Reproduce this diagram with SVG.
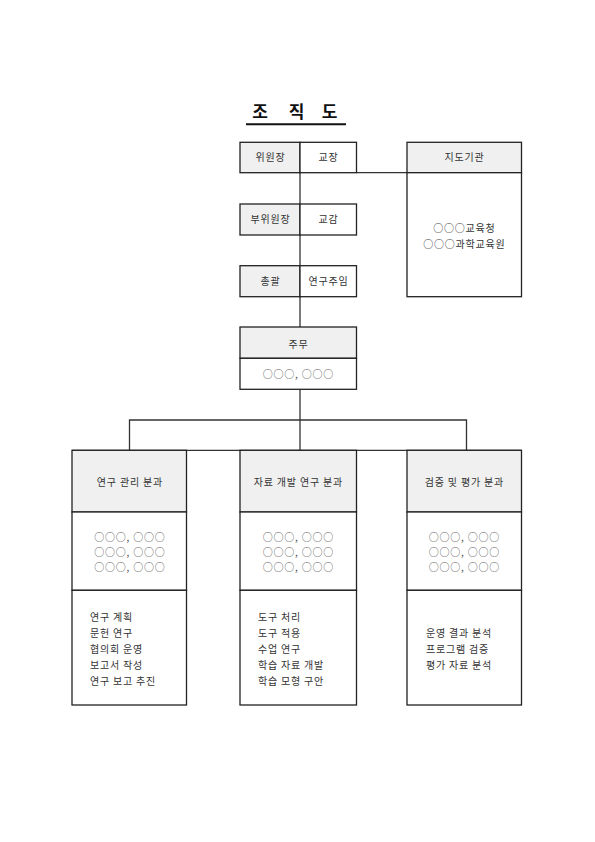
<svg xmlns="http://www.w3.org/2000/svg" width="595" height="842" viewBox="0 0 595 842">
<style>
.t{font-family:"Noto Sans CJK KR","Noto Sans",sans-serif;font-size:10px;fill:#333;letter-spacing:0.8px;}
.c{text-anchor:middle;}
.o{fill:#555;}
.title{font-family:"Noto Sans CJK KR","Noto Sans",sans-serif;font-size:17px;font-weight:bold;fill:#111;text-anchor:middle;}
.g{fill:#f0f0f0;stroke:#222;stroke-width:1.3;}
.w{fill:#fff;stroke:#222;stroke-width:1.3;}
.ln{fill:none;stroke:#333;stroke-width:1.3;}
</style>
<rect width="595" height="842" fill="#fff"/>
<g id="title">
<text class="title" x="260" y="118">조</text>
<text class="title" x="296.5" y="118">직</text>
<text class="title" x="329.5" y="118">도</text>
<line x1="246" y1="124.3" x2="346" y2="124.3" stroke="#111" stroke-width="2"/>
</g>
<g id="connectors">
<line class="ln" x1="300" y1="173" x2="300" y2="450"/>
<line class="ln" x1="356.5" y1="172.7" x2="407" y2="172.7"/>
<polyline class="ln" points="129.5,450 129.5,420 466.5,420 466.5,450"/>
<line class="ln" x1="72" y1="450.3" x2="521.5" y2="450.3"/>
</g>
<g id="chair">
<rect class="g" x="240" y="142.3" width="60" height="30.4"/>
<rect class="w" x="300" y="142.3" width="56.5" height="30.4"/>
<text class="t c" x="270.4" y="161">위원장</text>
<text class="t c" x="328.4" y="161">교장</text>
</g>
<g id="vicechair">
<rect class="g" x="240" y="204" width="60" height="31"/>
<rect class="w" x="300" y="204" width="56.5" height="31"/>
<text class="t c" x="270.4" y="223">부위원장</text>
<text class="t c" x="328.4" y="223">교감</text>
</g>
<g id="general">
<rect class="g" x="240" y="265.7" width="60" height="31"/>
<rect class="w" x="300" y="265.7" width="56.5" height="31"/>
<text class="t c" x="270.4" y="285">총괄</text>
<text class="t c" x="328.4" y="285">연구주임</text>
</g>
<g id="supervisor">
<rect class="g" x="407" y="142.3" width="114.5" height="30.4"/>
<rect class="w" x="407" y="172.7" width="114.5" height="124"/>
<text class="t c" x="464.4" y="161">지도기관</text>
<text class="t c" x="464.4" y="232">○○○교육청</text>
<text class="t c" x="464.4" y="248">○○○과학교육원</text>
</g>
<g id="manager">
<rect class="g" x="240" y="327" width="116.5" height="31.3"/>
<rect class="w" x="240" y="358.3" width="116.5" height="31"/>
<text class="t c" x="298.4" y="347.5">주무</text>
<text class="t c o" x="298.4" y="377.5">○○○, ○○○</text>
</g>
<g id="dept1">
<rect class="g" x="72" y="450.3" width="114.5" height="61.7"/>
<rect class="w" x="72" y="512" width="114.5" height="78.3"/>
<rect class="w" x="72" y="590.3" width="114.5" height="114.7"/>
<text class="t c" x="129.9" y="486">연구 관리 분과</text>
<text class="t c o" x="129.9" y="541">○○○, ○○○</text>
<text class="t c o" x="129.9" y="556">○○○, ○○○</text>
<text class="t c o" x="129.9" y="571">○○○, ○○○</text>
<text class="t" x="90" y="620.5">연구 계획</text>
<text class="t" x="90" y="636.5">문헌 연구</text>
<text class="t" x="90" y="652.5">협의회 운영</text>
<text class="t" x="90" y="668.5">보고서 작성</text>
<text class="t" x="90" y="684.5">연구 보고 추진</text>
</g>
<g id="dept2">
<rect class="g" x="240" y="450.3" width="116.5" height="61.7"/>
<rect class="w" x="240" y="512" width="116.5" height="78.3"/>
<rect class="w" x="240" y="590.3" width="116.5" height="114.7"/>
<text class="t c" x="298.4" y="486">자료 개발 연구 분과</text>
<text class="t c o" x="298.4" y="541">○○○, ○○○</text>
<text class="t c o" x="298.4" y="556">○○○, ○○○</text>
<text class="t c o" x="298.4" y="571">○○○, ○○○</text>
<text class="t" x="258" y="620.5">도구 처리</text>
<text class="t" x="258" y="636.5">도구 적용</text>
<text class="t" x="258" y="652.5">수업 연구</text>
<text class="t" x="258" y="668.5">학습 자료 개발</text>
<text class="t" x="258" y="684.5">학습 모형 구안</text>
</g>
<g id="dept3">
<rect class="g" x="407" y="450.3" width="114.5" height="61.7"/>
<rect class="w" x="407" y="512" width="114.5" height="78.3"/>
<rect class="w" x="407" y="590.3" width="114.5" height="114.7"/>
<text class="t c" x="464.4" y="486">검증 및 평가 분과</text>
<text class="t c o" x="464.4" y="541">○○○, ○○○</text>
<text class="t c o" x="464.4" y="556">○○○, ○○○</text>
<text class="t c o" x="464.4" y="571">○○○, ○○○</text>
<text class="t" x="426" y="636.5">운영 결과 분석</text>
<text class="t" x="426" y="652.5">프로그램 검증</text>
<text class="t" x="426" y="668.5">평가 자료 분석</text>
</g>
</svg>
